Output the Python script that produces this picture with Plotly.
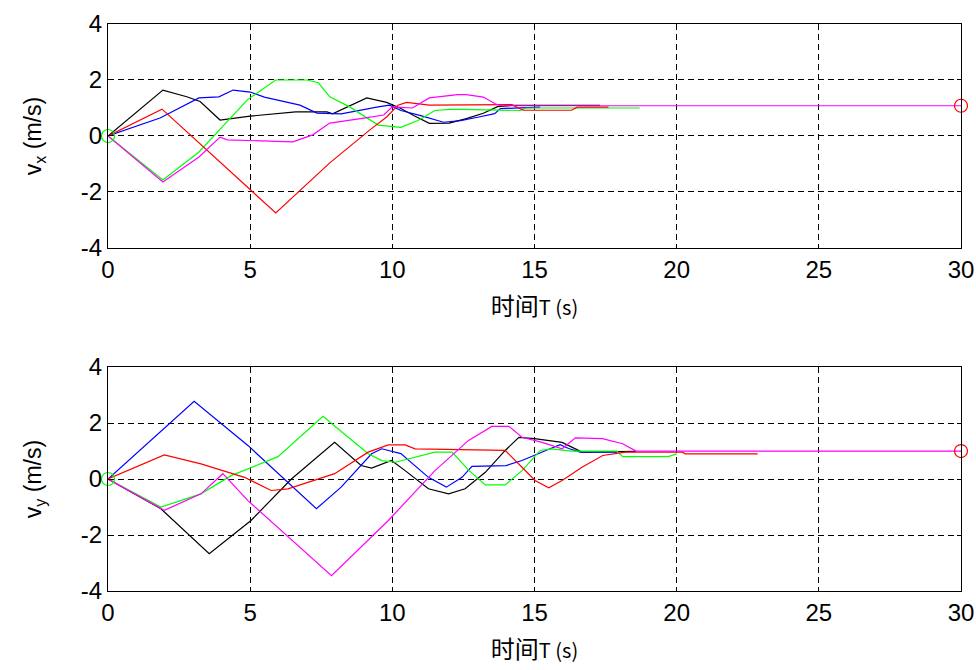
import plotly.graph_objects as go

# ---------------- data: top panel (v_x) ----------------
vx_black_t = [0, 1.93, 2.77, 3.24, 3.94, 5.0, 6.6, 7.7, 7.9, 9.1, 9.8, 10.3, 10.75, 11.3, 12.0, 12.6, 13.2, 13.7, 14.2, 16.4, 17.3]
vx_black_v = [0, 1.64, 1.40, 1.23, 0.57, 0.71, 0.86, 0.86, 0.79, 1.36, 1.2, 0.98, 0.73, 0.45, 0.46, 0.62, 0.81, 1.05, 1.09, 1.09, 1.09]

vx_blue_t = [0, 1.83, 3.2, 3.9, 4.4, 5.0, 5.5, 6.75, 7.35, 8.2, 9.5, 9.9, 10.3, 11.0, 11.8, 12.4, 13.0, 13.6, 13.8, 15.2]
vx_blue_v = [0, 0.64, 1.36, 1.4, 1.64, 1.57, 1.39, 1.1, 0.82, 0.79, 1.04, 1.1, 0.91, 0.73, 0.49, 0.55, 0.67, 0.8, 0.98, 1.03]

vx_green_t = [0, 1.93, 3.2, 4.9, 5.9, 7.0, 7.4, 7.8, 8.5, 9.1, 9.5, 10.3, 10.9, 11.5, 12.0, 12.5, 13.7, 14.5, 14.7, 18.7]
vx_green_v = [0, -1.57, -0.57, 1.29, 2.0, 2.0, 1.9, 1.4, 1.04, 0.64, 0.39, 0.31, 0.55, 0.91, 0.95, 0.95, 0.91, 0.91, 1.0, 1.0]

vx_red_t = [0, 1.9, 5.9, 7.8, 9.2, 9.8, 10.2, 10.5, 11.3, 14.2, 14.6, 16.3, 16.5, 17.6]
vx_red_v = [0, 0.96, -2.75, -0.96, 0.21, 0.68, 1.1, 1.2, 1.1, 1.12, 0.92, 0.92, 1.03, 1.03]

vx_mag_t = [0, 1.93, 3.2, 3.94, 4.2, 6.5, 7.2, 7.8, 9.0, 9.7, 10.0, 10.7, 11.3, 11.7, 12.3, 12.6, 13.2, 13.6, 13.8, 30]
vx_mag_v = [0, -1.64, -0.75, -0.04, -0.14, -0.21, 0.04, 0.46, 0.64, 0.75, 1.04, 1.0, 1.36, 1.41, 1.48, 1.48, 1.39, 1.16, 1.08, 1.08]

# ---------------- data: bottom panel (v_y) ----------------
vy_black_t = [0, 1.86, 3.56, 5.03, 6.45, 7.97, 8.9, 9.27, 9.97, 10.45, 11.27, 11.98, 12.56, 13.27, 13.97, 14.45, 15.0, 15.97, 16.67, 18.57]
vy_black_v = [0, -1.06, -2.67, -1.48, 0.0, 1.31, 0.48, 0.39, 0.66, 0.3, -0.35, -0.53, -0.35, 0.24, 1.02, 1.49, 1.44, 1.31, 0.96, 0.99]

vy_blue_t = [0, 3.03, 4.92, 6.45, 7.33, 8.2, 9.27, 9.63, 10.3, 11.27, 11.9, 12.45, 12.8, 14.0, 14.56, 15.4, 15.9, 16.2, 16.6, 17.9]
vy_blue_v = [0, 2.78, 1.2, -0.23, -1.06, -0.29, 0.9, 1.08, 0.91, 0.06, -0.29, 0.06, 0.45, 0.48, 0.66, 1.02, 1.23, 1.09, 0.96, 0.96]

vy_green_t = [0, 1.86, 3.27, 4.33, 5.98, 7.56, 8.3, 9.15, 9.63, 10.1, 11.5, 12.1, 12.7, 13.27, 13.97, 14.56, 15.2, 15.6, 16.3, 17.9, 18.1, 19.7, 20.0]
vy_green_v = [0, -1.0, -0.53, 0.12, 0.8, 2.24, 1.62, 0.9, 0.66, 0.6, 0.96, 0.96, 0.3, -0.21, -0.21, 0.3, 1.02, 1.08, 1.0, 1.0, 0.8, 0.8, 0.9]

vy_red_t = [0, 1.98, 3.27, 4.8, 5.74, 6.33, 7.97, 9.15, 9.86, 10.45, 10.8, 13.97, 14.56, 15.02, 15.5, 15.97, 16.67, 17.4, 18.2, 20.2, 20.3, 22.85]
vy_red_v = [0, 0.86, 0.54, 0.06, -0.41, -0.35, 0.19, 0.96, 1.22, 1.22, 1.08, 1.02, 0.42, -0.05, -0.31, -0.05, 0.42, 0.84, 0.96, 0.96, 0.9, 0.9]

vy_mag_t = [0, 1.98, 3.27, 4.04, 4.92, 6.21, 7.86, 9.86, 11.5, 12.68, 13.5, 14.1, 14.56, 15.27, 15.97, 16.44, 17.39, 18.1, 18.57, 30]
vy_mag_v = [0, -1.12, -0.53, 0.19, -0.77, -1.96, -3.45, -1.48, 0.3, 1.38, 1.88, 1.88, 1.49, 1.31, 1.08, 1.47, 1.44, 1.26, 1.0, 1.0]

x_ticks = [0, 5, 10, 15, 20, 25, 30]
y_ticks = [-4, -2, 0, 2, 4]

colors = {"black": "#000000", "blue": "#0000FF", "green": "#00FF00", "red": "#FF0000", "mag": "#FF00FF"}

top = [("black", vx_black_t, vx_black_v), ("blue", vx_blue_t, vx_blue_v),
       ("green", vx_green_t, vx_green_v), ("red", vx_red_t, vx_red_v),
       ("mag", vx_mag_t, vx_mag_v)]
bot = [("black", vy_black_t, vy_black_v), ("blue", vy_blue_t, vy_blue_v),
       ("green", vy_green_t, vy_green_v), ("red", vy_red_t, vy_red_v),
       ("mag", vy_mag_t, vy_mag_v)]

fig = go.Figure()
for series, xa, ya in [(top, "x", "y"), (bot, "x2", "y2")]:
    for name, t, v in series:
        fig.add_trace(go.Scatter(x=t, y=v, mode="lines", xaxis=xa, yaxis=ya,
                                 line=dict(color=colors[name], width=1.2),
                                 showlegend=False, hoverinfo="skip"))
    # start marker (green circle) and end marker (red circle)
    mt, mv = series[-1][1], series[-1][2]
    fig.add_trace(go.Scatter(x=[mt[0]], y=[mv[0]], mode="markers", xaxis=xa, yaxis=ya,
                             marker=dict(symbol="circle-open", size=13, color="#00FF00",
                                         line=dict(width=1.2, color="#00FF00")),
                             cliponaxis=False, showlegend=False, hoverinfo="skip"))
    fig.add_trace(go.Scatter(x=[mt[-1]], y=[mv[-1]], mode="markers", xaxis=xa, yaxis=ya,
                             marker=dict(symbol="circle-open", size=13, color="#FF0000",
                                         line=dict(width=1.2, color="#FF0000")),
                             cliponaxis=False, showlegend=False, hoverinfo="skip"))

font_main = "Liberation Sans, Arial, Noto Sans CJK SC, sans-serif"
tickfont = dict(family=font_main, size=24, color="#000000")

xcommon = dict(range=[0, 30], tickvals=x_ticks, ticktext=[str(v) for v in x_ticks],
               showgrid=True, gridcolor="#000000", griddash="6px,4px", gridwidth=1,
               showline=True, linecolor="#000000", linewidth=1, mirror="ticks",
               ticks="inside", ticklen=4, tickcolor="#000000", zeroline=False,
               tickfont=tickfont, automargin=False)
ycommon = dict(range=[-4, 4], tickvals=y_ticks, ticktext=[str(v) for v in y_ticks],
               showgrid=True, gridcolor="#000000", griddash="6px,4px", gridwidth=1,
               showline=True, linecolor="#000000", linewidth=1, mirror="ticks",
               ticks="inside", ticklen=4, tickcolor="#000000", zeroline=False,
               tickfont=tickfont, automargin=False)

xtitle = dict(text="时间<span style='font-size:20px'>T (s)</span>",
              font=dict(family="Noto Sans CJK SC, Liberation Sans, sans-serif", size=24, color="#000000"),
              standoff=16)

ytitle_font = dict(family=font_main, size=23, color="#000000")

fig.update_layout(
    width=976, height=670,
    margin=dict(l=108, r=15, t=24, b=79),
    paper_bgcolor="white", plot_bgcolor="white",
    xaxis=dict(**xcommon, domain=[0, 1], anchor="y", title=xtitle),
    yaxis=dict(**ycommon, domain=[0.605, 1], anchor="x",
               title=dict(text="v<sub>x</sub> (m/s)", standoff=32, font=ytitle_font)),
    xaxis2=dict(**xcommon, domain=[0, 1], anchor="y2", title=xtitle),
    yaxis2=dict(**ycommon, domain=[0, 0.395], anchor="x2",
                title=dict(text="v<sub>y</sub> (m/s)", standoff=32, font=ytitle_font)),
)

fig.write_html("out.html")
